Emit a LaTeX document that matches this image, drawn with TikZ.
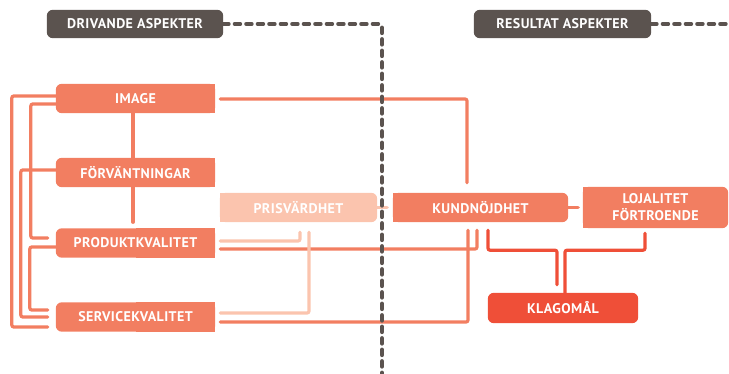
\documentclass[tikz,border=0pt]{standalone}
\usepackage{fontspec}
\setmainfont{PT Sans}[LetterSpace=3]
\usetikzlibrary{backgrounds,calc}
\definecolor{cdark}{HTML}{5B534F}
\definecolor{corange}{HTML}{F27E61}
\definecolor{clight}{HTML}{FBC4AE}
\definecolor{cred}{HTML}{EF4F38}
\newcommand\myboxL[2]{\fill[#2, rounded corners=6pt] (#1.south west) rectangle (#1.north east); \fill[#2] (#1.south) rectangle (#1.north east);}
\newcommand\myboxR[2]{\fill[#2, rounded corners=6pt] (#1.south west) rectangle (#1.north east); \fill[#2] (#1.south west) rectangle (#1.north);}
\newcommand\myboxA[2]{\fill[#2, rounded corners=6pt] (#1.south west) rectangle (#1.north east);}
\begin{document}
\begin{tikzpicture}[x=1pt,y=-1pt,
  lbl/.style={text=white, font=\bfseries\fontsize{14}{17}\selectfont, inner sep=0pt, align=center},
  oline/.style={draw=corange, line width=3.2pt, line cap=round, rounded corners=2pt},
  lline/.style={oline, draw=clight},
  rline/.style={oline, draw=cred},
  dline/.style={draw=cdark, line width=4pt, line cap=round, dash pattern=on 5.5pt off 6pt, rounded corners=3pt}]
\useasboundingbox (0,0) rectangle (729,374);

\node[lbl, minimum width=176pt, minimum height=28pt] (drv) at (135,24) {DRIVANDE ASPEKTER};
\node[lbl, minimum width=177pt, minimum height=28pt] (res) at (562.5,24) {RESULTAT ASPEKTER};
\node[lbl, minimum width=159pt, minimum height=29pt] (image) at (135.5,98.5) {IMAGE};
\node[lbl, minimum width=159pt, minimum height=29pt] (forv) at (135.5,172.5) {FÖRVÄNTNINGAR};
\node[lbl, minimum width=159pt, minimum height=29pt] (prod) at (135.5,243) {PRODUKTKVALITET};
\node[lbl, minimum width=159pt, minimum height=29pt] (serv) at (135.5,317) {SERVICEKVALITET};
\node[lbl, minimum width=157pt, minimum height=29pt] (pris) at (298.5,207.5) {PRISVÄRDHET};
\node[lbl, minimum width=175pt, minimum height=29pt] (kund) at (480.5,207.5) {KUNDNÖJDHET};
\node[lbl, minimum width=145pt, minimum height=41pt] (loj) at (655.5,207.5) {LOJALITET\\FÖRTROENDE};
\node[lbl, minimum width=150pt, minimum height=30pt] (klag) at (563,308) {KLAGOMÅL};
\coordinate (dend) at (382,374);
\coordinate (rend) at (729,24);

\begin{scope}[on background layer]
\myboxA{drv}{cdark}
\myboxA{res}{cdark}
\myboxL{image}{corange}
\myboxL{forv}{corange}
\myboxL{prod}{corange}
\myboxL{serv}{corange}
\myboxR{pris}{clight}
\myboxR{kund}{corange}
\myboxR{loj}{corange}
\myboxA{klag}{cred}

% left connectors
\draw[oline] ([yshift=2.5pt]image.west) -- ++(-44,0) |- ([xshift=-8pt,yshift=-10pt]serv.west);
\draw[oline] ([yshift=-5.5pt]image.west) -- ++(-25,0) |- ([xshift=-8pt,yshift=5pt]prod.west);
\draw[oline] ([yshift=2.5pt]forv.west) -- ++(-35,0) |- ([xshift=-8pt]serv.west);
\draw[oline] ([yshift=-4pt]prod.west) -- ++(-26,0) |- ([xshift=-8pt,yshift=7pt]serv.west);
\draw[oline] ([xshift=-2.5pt]image.south) -- ([xshift=-2.5pt]forv.north);
\draw[oline] ([xshift=-2.5pt]forv.south) -- ([xshift=-2.5pt,yshift=6pt]prod.north);

% right connectors
\draw[oline] ([xshift=5pt,yshift=-0.5pt]image.east) -| ([xshift=-13.5pt,yshift=10pt]kund.north);
\draw[oline] ([xshift=5pt,yshift=-6pt]prod.east) -| ([xshift=-3.5pt,yshift=-8pt]kund.south);
\draw[oline] ([xshift=5pt,yshift=-5pt]serv.east) -| ([xshift=-12.5pt,yshift=-8pt]kund.south);
\draw[lline] ([xshift=5pt,yshift=2pt]prod.east) -| ([xshift=1.5pt,yshift=-10pt]pris.south);
\draw[lline] ([xshift=5pt,yshift=4pt]serv.east) -| ([xshift=10.5pt,yshift=-10pt]pris.south);
\draw[lline] (pris.east) -- ++(10,0);
\draw[oline] (kund.east) -- ++(10,0);

% red connectors
\draw[rline] ([xshift=7.5pt,yshift=-8pt]kund.south) -- ++(0,20) -| ([xshift=-6pt,yshift=8pt]klag.north);
\draw[rline] ([xshift=-10.5pt,yshift=-5pt]loj.south) -- ++(0,17) -| ([xshift=2pt]klag.north);

% dashed separators
\draw[dline] (drv.east) -| (dend);
\draw[dline] (res.east) -- (rend);
\end{scope}
\end{tikzpicture}
\end{document}
